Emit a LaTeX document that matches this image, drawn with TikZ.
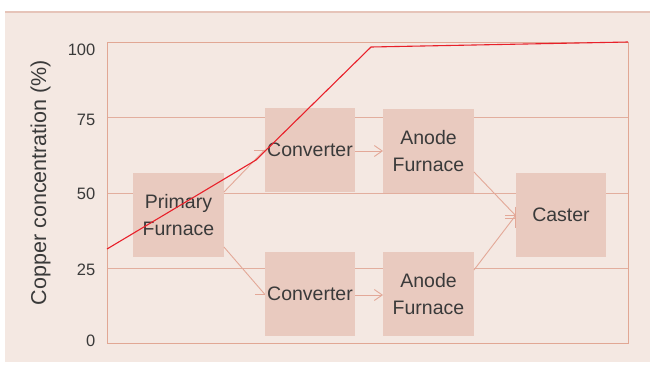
\documentclass[tikz,border=0pt]{standalone}
\usepackage{fontspec}
\setmainfont{Liberation Sans}
\usetikzlibrary{arrows.meta}
\definecolor{panel}{HTML}{F4E8E2}
\definecolor{stagefill}{HTML}{E9CABF}
\definecolor{gridrule}{HTML}{E2AE9E}
\definecolor{framerule}{HTML}{E1A794}
\definecolor{flow}{HTML}{E3A898}
\definecolor{ink}{HTML}{3A3A3A}
\definecolor{copper}{HTML}{E8202A}
\definecolor{topline}{HTML}{E6C4B9}
\begin{document}
\begin{tikzpicture}[x=1pt,y=-1pt,
  stagebox/.style={fill=stagefill, minimum width=90.5pt, minimum height=84pt, inner sep=0pt,
    text=ink, font=\fontsize{19.5}{27.5}\selectfont, align=center},
  ticklabel/.style={anchor=base east, text=ink, font=\fontsize{16.5}{18}\selectfont, inner sep=0pt},
  flowline/.style={draw=flow, line width=0.9pt},
  flowarrow/.style={flowline, -{Straight Barb[length=8pt, width=11pt, line width=0.9pt]}}
]
\useasboundingbox (0,0) rectangle (650,365);

% panel and its top rule
\fill[panel] (5,12) rectangle (650,362);
\draw[topline, line width=2pt] (5,12) -- (650,12);

% grid and frame
\foreach \yy in {117.8,193.2,268.5}
  \draw[gridrule, line width=0.9pt] (107,\yy) -- (628,\yy);
\draw[framerule, line width=0.9pt] (107,42.3) rectangle (628,343.9);

% tick labels
\node[ticklabel] (t100) at (95.5,55.7) {100};
\node[ticklabel] (t75) at (95.5,125) {75};
\node[ticklabel] (t50) at (95.5,199) {50};
\node[ticklabel] (t25) at (95.5,275) {25};
\node[ticklabel] (t0) at (95.5,346) {0};

% axis title
\node[rotate=90, anchor=base, inner sep=0pt, text=ink, font=\fontsize{21.5}{24}\selectfont]
  (ytitle) at (46,182.5) {Copper concentration (\%)};

% process stages
\node[stagebox] (pf) at (178.5,215) {Primary\\Furnace};
\node[stagebox] (c1) at (310,150) {Converter};
\node[stagebox] (a1) at (428.5,151) {Anode\\Furnace};
\node[stagebox] (c2) at (310,294) {Converter};
\node[stagebox] (a2) at (428.5,294) {Anode\\Furnace};
\node[stagebox] (cs) at (561,215) {Caster};

% flows between stages
\draw[flowline] (pf.east |- 0,192) -- (c1.west);
\draw[flowline] (254,150) -- (c1.west);
\draw[flowline] (pf.east |- 0,247) -- (c2.west);
\draw[flowline] (255,294) -- (c2.west);
\draw[flowarrow] (c1.east |- 0,151) -- (a1.west |- 0,151);
\draw[flowarrow] (c2.east |- 0,295) -- (a2.west |- 0,295);
\draw[flowline] (a1.east |- 0,172) -- (cs.west |- 0,215.5);
\draw[flowline] (a2.east |- 0,270) -- (cs.west |- 0,215.5);
\draw[flowline] (cs.west |- 0,206.7) -- (cs.west |- 0,228.3);
\draw[flowline] (505,215.5) -- (cs.west |- 0,215.5);
\draw[flowline] (505,218.5) -- (cs.west |- 0,218.5);

% copper concentration curve
\draw[copper, line width=1.1pt, line join=round] (107,249) -- (256,160) -- (371,47) -- (628,42);
\end{tikzpicture}
\end{document}
